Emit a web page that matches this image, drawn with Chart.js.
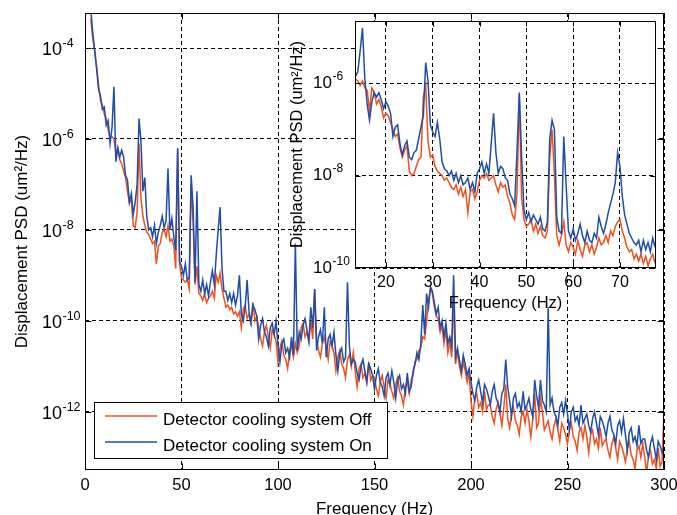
<!DOCTYPE html>
<html><head><meta charset="utf-8">
<script src="https://cdn.jsdelivr.net/npm/chart.js@4.4.0/dist/chart.umd.min.js"></script>
<style>
html,body{margin:0;padding:0;background:#fff;}
#wrap{position:relative;width:677px;height:515px;overflow:hidden;background:#fff;}
#main{position:absolute;left:0;top:0;}
#inset{position:absolute;left:280px;top:0;}
</style></head><body>
<div id="wrap"><canvas id="main" width="677" height="515"></canvas><canvas id="inset" width="397" height="320"></canvas></div>
<script>
// ---------- DATA (values are log10 of PSD in um^2/Hz) ----------
const seriesLabels = ['Detector cooling system Off', 'Detector cooling system On'];
const mainFreqStart = 3, mainFreqStep = 1;          // Hz
const mainOnLog = [
 -3.15,-3.65,-4.05,-4.45,-4.9,-5.05,-5.35,
 -5.3,-5.7,-5.6,-6.1,-5.75,-4.85,-6.5,-6.2,-6.4,-6.25,
 -6.4,-6.8,-6.9,-7.4,-7.2,-7.65,-7.4,-7.0,-5.55,-6.05,
 -7.15,-6.85,-7.7,-8.0,-7.95,-8.15,-7.9,-8.3,-8.05,-7.9,
 -7.7,-7.95,-7.8,-6.65,-8.0,-7.75,-8.15,-8.45,-6.2,-8.7,
 -8.8,-9.0,-8.75,-9.1,-9.05,-6.8,-7.5,-9.15,-7.15,-9.2,
 -9.35,-9.1,-9.4,-9.2,-9.45,-9.15,-8.9,-9.2,-8.55,-8.0,
 -7.5,-8.85,-9.35,-9.35,-9.55,-9.4,-9.6,-9.4,-9.65,-9.45,
 -9.0,-9.85,-10.0,-9.7,-9.1,-9.8,-10.05,-9.65,-9.75,-9.9,
 -10.4,-10.1,-9.95,-10.25,-10.35,-10.55,-10.15,-10.05,-10.3,-10.0,
 -10.55,-10.9,-10.5,-10.4,-10.7,-10.6,-10.8,-10.35,-10.75,-8.3,
 -10.65,-10.25,-10.4,-10.1,-9.95,-10.2,-10.45,-9.7,-10.15,-9.3,
 -10.65,-10.35,-10.2,-10.5,-9.7,-10.8,-10.4,-10.3,-10.55,-10.25,
 -10.75,-11.1,-10.7,-10.6,-10.9,-10.8,-9.15,-10.55,-10.95,-10.85,
 -10.9,-11.15,-11.3,-11.0,-10.85,-11.1,-11.35,-10.95,-11.05,-11.2,
 -11.5,-11.2,-11.05,-11.35,-11.45,-11.65,-11.25,-11.15,-11.4,-11.1,
 -11.35,-11.7,-11.3,-11.2,-11.5,-11.4,-11.6,-11.15,-11.55,-11.45,
 -11.1,-10.95,-10.7,-10.85,-10.5,-9.65,-10.3,-9.4,-9.7,-9.25,
 -9.35,-9.6,-9.85,-9.7,-10.15,-10.0,-10.35,-10.05,-10.5,-10.35,
 -10.55,-9.0,-10.8,-10.6,-10.85,-11.1,-10.75,-10.95,-11.2,-11.05,
 -11.35,-11.6,-11.75,-11.45,-11.3,-11.55,-11.8,-11.4,-11.5,-11.65,
 -11.85,-11.55,-11.4,-11.7,-11.8,-12.0,-11.6,-11.5,-10.85,-11.45,
 -11.75,-12.1,-11.7,-11.6,-11.9,-11.8,-12.0,-11.55,-11.95,-11.85,
 -11.7,-11.95,-12.1,-11.3,-11.65,-11.9,-11.3,-11.75,-11.85,-12.0,
 -9.7,-11.85,-11.7,-12.0,-12.1,-12.3,-11.9,-11.8,-12.05,-11.75,
 -12.05,-12.4,-12.0,-11.9,-12.2,-12.1,-12.3,-11.85,-12.25,-12.15,
 -12.05,-12.3,-12.45,-12.15,-12.0,-12.25,-12.5,-12.1,-12.2,-12.35,
 -12.55,-12.25,-12.1,-12.4,-12.5,-12.7,-12.3,-12.2,-12.45,-12.15,
 -12.5,-12.85,-12.45,-12.35,-12.65,-12.55,-12.75,-12.3,-12.7,-12.6,
 -12.6,-12.85,-13.0,-12.7,-12.55,-12.8,-13.05,-12.65,-12.75,-12.9,
 -12.8
];
const mainOffLog = [
 -3.35,-3.8,-4.05,-4.4,-4.8,-5.15,-5.25,
 -5.45,-5.55,-5.8,-5.95,-5.95,-6.0,-6.3,-6.2,-6.45,-6.55,
 -6.7,-6.85,-7.15,-7.4,-7.35,-7.9,-7.95,-7.6,-6.1,-7.3,
 -7.7,-7.9,-8.05,-8.1,-8.2,-8.3,-8.25,-8.75,-8.35,-8.3,
 -8.05,-8.0,-8.15,-7.9,-8.25,-8.2,-8.35,-8.85,-6.25,-8.75,
 -9.05,-9.1,-9.15,-9.1,-9.3,-7.0,-7.8,-9.2,-8.8,-9.4,
 -9.45,-9.55,-9.4,-9.6,-9.5,-9.45,-9.35,-9.5,-9.0,-9.15,
 -8.95,-9.3,-9.5,-9.7,-9.65,-9.75,-9.7,-9.85,-9.8,-9.9,
 -9.8,-10.15,-9.75,-9.65,-9.95,-9.85,-10.05,-9.6,-10.0,-9.9,
 -10.15,-10.4,-10.55,-10.25,-10.1,-10.35,-10.6,-10.2,-10.3,-10.45,
 -10.9,-10.6,-10.45,-10.75,-10.85,-11.05,-10.65,-10.55,-10.8,-10.5,
 -10.7,-10.55,-10.15,-10.05,-10.35,-10.25,-10.45,-10.0,-10.4,-9.3,
 -10.4,-10.65,-10.8,-10.5,-10.35,-10.6,-10.85,-10.45,-10.55,-10.7,
 -11.1,-10.8,-10.65,-10.95,-11.05,-11.25,-10.85,-10.75,-11.0,-10.7,
 -11.1,-11.45,-11.05,-10.95,-11.25,-11.15,-11.35,-10.9,-11.3,-11.2,
 -11.25,-11.5,-11.65,-11.35,-11.2,-11.45,-11.7,-11.3,-11.4,-11.55,
 -11.7,-11.4,-11.25,-11.55,-11.65,-11.85,-11.45,-11.35,-11.6,-11.3,
 -11.2,-10.9,-10.85,-10.65,-10.6,-10.35,-10.4,-10.0,-9.55,-9.3,
 -9.4,-9.7,-9.9,-9.95,-10.25,-10.1,-10.5,-10.2,-10.7,-10.45,
 -10.8,-9.5,-10.95,-10.7,-11.0,-11.2,-10.9,-11.1,-11.35,-11.15,
 -11.75,-12.1,-11.7,-11.6,-11.9,-11.8,-12.0,-11.55,-11.95,-11.85,
 -11.85,-12.1,-12.25,-11.95,-11.8,-12.05,-12.3,-11.9,-11.4,-12.15,
 -12.35,-12.05,-11.9,-12.2,-12.3,-12.5,-12.1,-12.0,-12.25,-11.95,
 -12.2,-12.55,-12.15,-11.6,-12.35,-12.25,-11.7,-12.0,-12.4,-12.3,
 -12.2,-12.45,-12.6,-12.3,-12.15,-12.4,-12.65,-12.25,-12.35,-12.5,
 -12.7,-12.4,-12.25,-12.55,-12.65,-12.85,-12.45,-12.35,-12.6,-12.3,
 -12.55,-12.9,-12.5,-12.4,-12.7,-12.6,-12.8,-12.35,-12.75,-12.65,
 -12.6,-12.85,-13.0,-12.7,-12.55,-12.8,-13.05,-12.65,-12.75,-12.9,
 -13.1,-12.8,-12.65,-12.95,-13.05,-13.25,-12.85,-12.75,-13.0,-12.7,
 -13.0,-13.35,-12.95,-12.85,-13.15,-13.05,-13.25,-12.8,-13.2,-13.1,
 -12.0
];
const insetFreqStart = 13.5, insetFreqStep = 0.5;   // Hz
const insetOnLog = [
 -5.85,-5.75,-5.3,-4.8,-5.9,-6.45,-6.8,-6.4,-6.2,-6.3,
 -6.2,-6.35,-6.55,-6.4,-6.5,-6.65,-7.15,-6.95,-6.9,-7.3,
 -7.55,-7.35,-7.25,-7.6,-7.65,-7.5,-7.45,-7.2,-6.95,-6.7,
 -5.55,-5.95,-6.9,-7.05,-7.15,-6.85,-7.2,-7.7,-7.85,-7.9,
 -8.0,-7.9,-8.1,-7.95,-8.15,-8.0,-8.2,-8.15,-8.05,-8.3,
 -8.15,-8.35,-7.95,-7.85,-7.7,-7.95,-7.75,-7.95,-7.3,-6.65,
 -7.5,-7.95,-7.8,-7.85,-8.05,-8.1,-8.4,-8.5,-8.65,-7.5,
 -6.2,-7.6,-8.75,-8.95,-8.8,-9.0,-8.85,-8.95,-9.05,-8.9,
 -9.15,-9.2,-9.0,-7.2,-6.8,-7.0,-8.9,-9.2,-9.25,-7.15,
 -8.2,-9.2,-9.35,-9.15,-9.4,-9.25,-9.05,-9.3,-9.45,-9.2,
 -9.4,-9.45,-9.25,-9.35,-8.9,-9.1,-9.25,-9.05,-8.8,-8.6,
 -8.4,-8.15,-7.5,-7.8,-8.45,-8.85,-9.05,-9.25,-9.35,-9.45,
 -9.5,-9.4,-9.65,-9.4,-9.6,-9.45,-9.65,-9.35,-9.55
];
const insetOffLog = [
 -5.9,-5.95,-6.05,-5.95,-6.1,-6.15,-6.6,-6.1,-6.2,-6.45,
 -6.35,-6.5,-6.75,-6.65,-6.7,-6.85,-7.0,-7.15,-7.1,-7.4,
 -7.6,-7.45,-7.35,-7.9,-8.0,-7.95,-7.8,-7.65,-7.6,-6.3,
 -6.05,-7.25,-7.6,-7.55,-7.8,-7.9,-7.95,-8.0,-8.1,-8.05,
 -8.15,-8.25,-8.3,-8.2,-8.4,-8.25,-8.45,-8.3,-8.8,-8.35,
 -8.3,-8.5,-8.35,-8.1,-8.0,-8.05,-7.95,-8.1,-8.05,-8.0,
 -8.2,-8.35,-8.15,-8.25,-8.2,-8.45,-8.6,-8.85,-8.95,-8.4,
 -6.25,-8.5,-8.95,-9.1,-9.05,-8.95,-9.2,-9.05,-9.25,-9.1,
 -9.3,-9.35,-9.2,-7.6,-7.0,-8.0,-9.3,-9.5,-9.3,-9.0,
 -9.5,-9.65,-9.45,-9.55,-9.7,-9.4,-9.6,-9.75,-9.5,-9.45,
 -9.65,-9.5,-9.7,-9.55,-9.35,-9.5,-9.45,-9.3,-9.45,-9.2,
 -9.3,-9.1,-9.0,-8.95,-9.2,-9.35,-9.55,-9.65,-9.6,-9.8,
 -9.7,-9.85,-9.7,-9.9,-9.75,-9.95,-9.8,-9.7,-9.9
];
const mainXTicks = [0, 50, 100, 150, 200, 250, 300];
const mainYTickExp = [-12, -10, -8, -6, -4];
const insetXTicks = [20, 30, 40, 50, 60, 70];
const insetYTickExp = [-10, -8, -6];
const xTitle = 'Frequency (Hz)';
const yTitle = 'Displacement PSD (um\u00B2/Hz)';

// ---------- STYLE ----------
const COLOR_OFF = '#F0501E';
const COLOR_ON = '#1F4DA8';
const FONT = '"Liberation Sans", Arial, Helvetica, sans-serif';

function toPoints(start, step, logs) {
  return logs.map((v, i) => ({ x: +(start + i * step).toFixed(3), y: Math.pow(10, v) }));
}

function drawPow(ctx, xSplit, yc, exp, big, small) {
  ctx.textBaseline = 'alphabetic';
  ctx.font = big + 'px ' + FONT;
  ctx.textAlign = 'right';
  ctx.fillText('10', xSplit, yc + 0.36 * big);
  ctx.font = small + 'px ' + FONT;
  ctx.textAlign = 'left';
  ctx.fillText(String(exp), xSplit + 0.5, yc - 2);
}

function axesPlugin(cfg) {
  return {
    id: 'matlabAxes_' + cfg.name,
    beforeDraw(chart) {
      const ctx = chart.ctx, a = chart.chartArea;
      ctx.save();
      ctx.fillStyle = '#fff';
      ctx.fillRect(a.left, a.top, a.right - a.left, a.bottom - a.top);
      ctx.restore();
    },
    afterDraw(chart) {
      const ctx = chart.ctx, a = chart.chartArea;
      const xs = chart.scales.x, ys = chart.scales.y;
      ctx.save();
      ctx.strokeStyle = '#000';
      ctx.fillStyle = '#000';
      ctx.lineWidth = 1;
      ctx.setLineDash([]);
      const L = Math.round(a.left) + 0.5, R = Math.round(a.right) - 0.5;
      const T = Math.round(a.top) + 0.5, B = Math.round(a.bottom) - 0.5;
      ctx.beginPath();
      const tl = cfg.tickLen;
      cfg.xTicks.forEach(v => {
        const px = Math.round(xs.getPixelForValue(v)) + 0.5;
        ctx.moveTo(px, B); ctx.lineTo(px, B - tl);
        ctx.moveTo(px, T); ctx.lineTo(px, T + tl);
      });
      cfg.yExp.forEach(e => {
        const py = Math.round(ys.getPixelForValue(Math.pow(10, e))) + 0.5;
        ctx.moveTo(L, py); ctx.lineTo(L + tl, py);
        ctx.moveTo(R, py); ctx.lineTo(R - tl, py);
      });
      ctx.stroke();
      ctx.strokeRect(L, T, R - L, B - T);
      ctx.font = cfg.xFont + 'px ' + FONT;
      ctx.textAlign = 'center';
      ctx.textBaseline = 'alphabetic';
      cfg.xTicks.forEach(v => {
        ctx.fillText(String(v), xs.getPixelForValue(v), a.bottom + cfg.xLabelOffset);
      });
      cfg.yExp.forEach(e => {
        const py = ys.getPixelForValue(Math.pow(10, e));
        drawPow(ctx, cfg.ySplitX, py + cfg.yLabelShift, e, cfg.yBig, cfg.ySmall);
      });
      ctx.font = cfg.titleFont + 'px ' + FONT;
      ctx.textAlign = 'center';
      ctx.textBaseline = 'alphabetic';
      ctx.fillText(xTitle, (a.left + a.right) / 2, cfg.xTitleY);
      ctx.save();
      ctx.translate(cfg.yTitleX, (a.top + a.bottom) / 2);
      ctx.rotate(-Math.PI / 2);
      ctx.textBaseline = 'middle';
      ctx.fillText(yTitle, 0, 0);
      ctx.restore();
      if (cfg.legend) {
        const lg = cfg.legend;
        ctx.fillStyle = '#fff';
        ctx.fillRect(lg.x, lg.y, lg.w, lg.h);
        ctx.strokeStyle = '#000';
        ctx.strokeRect(lg.x + 0.5, lg.y + 0.5, lg.w, lg.h);
        const cols = [COLOR_OFF, COLOR_ON];
        ctx.font = lg.font + 'px ' + FONT;
        ctx.textAlign = 'left';
        ctx.textBaseline = 'alphabetic';
        seriesLabels.forEach((t, i) => {
          const ly = lg.lineY[i];
          ctx.strokeStyle = cols[i];
          ctx.lineWidth = 1.5;
          ctx.beginPath();
          ctx.moveTo(lg.x1, ly); ctx.lineTo(lg.x2, ly);
          ctx.stroke();
          ctx.fillStyle = '#000';
          ctx.fillText(t, lg.tx, lg.textY[i]);
        });
      }
      ctx.restore();
    }
  };
}

function makeChart(canvas, cfg) {
  const gridOpts = { color: '#000', lineWidth: 1, drawTicks: false, tickLength: 0 };
  return new Chart(canvas, {
    type: 'line',
    data: {
      datasets: [
        { label: seriesLabels[0], data: cfg.off, borderColor: COLOR_OFF, borderWidth: 1.5, pointRadius: 0, tension: 0, order: 1 },
        { label: seriesLabels[1], data: cfg.on, borderColor: COLOR_ON, borderWidth: 1.5, pointRadius: 0, tension: 0, order: 0 }
      ]
    },
    options: {
      responsive: false,
      devicePixelRatio: 1,
      animation: false,
      parsing: false,
      normalized: true,
      layout: { padding: cfg.padding },
      plugins: { legend: { display: false }, tooltip: { enabled: false }, title: { display: false } },
      scales: {
        x: {
          type: 'linear', min: cfg.xMin, max: cfg.xMax,
          afterBuildTicks: s => { s.ticks = cfg.xTicks.map(v => ({ value: v })); },
          ticks: { display: false },
          grid: gridOpts,
          border: { display: false, dash: [4, 3] }
        },
        y: {
          type: 'logarithmic', min: Math.pow(10, cfg.yMinExp), max: Math.pow(10, cfg.yMaxExp),
          afterBuildTicks: s => { s.ticks = cfg.yExp.map(e => ({ value: Math.pow(10, e) })); },
          ticks: { display: false },
          grid: gridOpts,
          border: { display: false, dash: [4, 3] }
        }
      }
    },
    plugins: [axesPlugin(cfg)]
  });
}

makeChart(document.getElementById('main'), {
  name: 'main',
  on: toPoints(mainFreqStart, mainFreqStep, mainOnLog),
  off: toPoints(mainFreqStart, mainFreqStep, mainOffLog),
  padding: { left: 85, top: 13, right: 13, bottom: 45 },
  xMin: 0, xMax: 300, yMinExp: -13.28, yMaxExp: -3.23,
  xTicks: mainXTicks, yExp: mainYTickExp,
  tickLen: 6, xFont: 16.5, xLabelOffset: 20, ySplitX: 62, yLabelShift: 1, yBig: 18, ySmall: 12.5,
  titleFont: 17, xTitleY: 514, yTitleX: 22,
  legend: { x: 94, y: 402, w: 293, h: 56, x1: 105, x2: 157, lineY: [416, 442], tx: 163, textY: [425, 451], font: 17 }
});

makeChart(document.getElementById('inset'), {
  name: 'inset',
  on: toPoints(insetFreqStart, insetFreqStep, insetOnLog),
  off: toPoints(insetFreqStart, insetFreqStep, insetOffLog),
  padding: { left: 75, top: 21, right: 21, bottom: 52 },
  xMin: 13.4, xMax: 77.7, yMinExp: -10.0, yMaxExp: -4.65,
  xTicks: insetXTicks, yExp: insetYTickExp,
  tickLen: 5, xFont: 16, xLabelOffset: 19, ySplitX: 52, yLabelShift: -1.5, yBig: 17, ySmall: 12,
  titleFont: 16.5, xTitleY: 308, yTitleX: 17
});
</script>
</body></html>
